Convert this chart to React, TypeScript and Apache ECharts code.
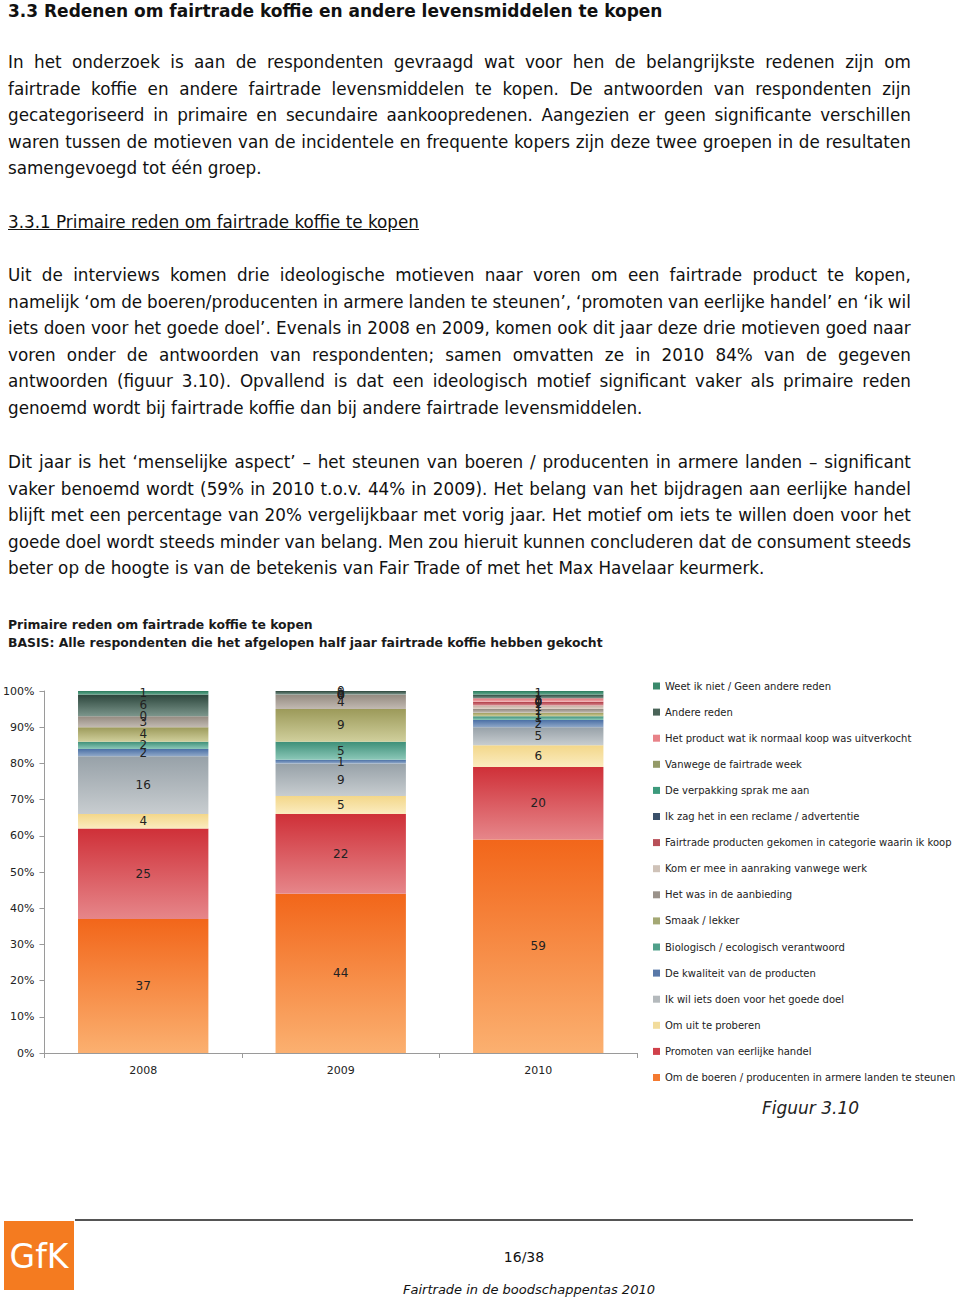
import React, { useEffect, useRef } from "react";
import * as echarts from "echarts";

const FONT = '"DejaVu Sans", Verdana, sans-serif';

const years = ["2008", "2009", "2010"];

// bottom → top of the stack
const seriesNames = [
  "Om de boeren / producenten in armere landen te steunen",
  "Promoten van eerlijke handel",
  "Om uit te proberen",
  "Ik wil iets doen voor het goede doel",
  "De kwaliteit van de producten",
  "Biologisch / ecologisch verantwoord",
  "Smaak / lekker",
  "Het was in de aanbieding",
  "Kom er mee in aanraking vanwege werk",
  "Fairtrade producten gekomen in categorie waarin ik koop",
  "Ik zag het in een reclame / advertentie",
  "De verpakking sprak me aan",
  "Vanwege de fairtrade week",
  "Het product wat ik normaal koop was uitverkocht",
  "Andere reden",
  "Weet ik niet / Geen andere reden",
];

const boeren = [37, 44, 59];
const promoten = [25, 22, 20];
const proberen = [4, 5, 6];
const goedeDoel = [16, 9, 5];
const kwaliteit = [2, 1, 2];
const biologisch = [2, 5, 1];
const smaak = [4, 9, 1];
const aanbieding = [3, 4, 1];
const komErMee = [0, 0, 1];
const categorie = [null, 0, 1];
const reclame = [null, 0, 0];
const verpakking = [null, 0, 0];
const fairtradeWeek = [null, 0, 0];
const uitverkocht = [null, 0, 1];
const andere = [6, 1, 1];
const weetNiet = [1, 0, 1];

const seriesValues = [
  boeren, promoten, proberen, goedeDoel, kwaliteit, biologisch, smaak, aanbieding,
  komErMee, categorie, reclame, verpakking, fairtradeWeek, uitverkocht, andere, weetNiet,
];

const topColors = [
  "#f2661a", "#cf3038", "#f3d78a", "#97a1a8", "#4a6fa5", "#3d8f78", "#9c9a5a", "#948a80",
  "#c4aea0", "#b03a44", "#2c4660", "#36906e", "#84884e", "#dc6e74", "#2c463c", "#2a7a5c",
];
const bottomColors = [
  "#fbb070", "#e6868a", "#fbecc0", "#c8cdd0", "#8fa8c8", "#8cc8b8", "#d0cf9c", "#c2bab2",
  "#e4d6cc", "#d88a90", "#6f8499", "#80c4a8", "#b8ba8a", "#f2b0b2", "#7c968c", "#62aa8e",
];
const legendColors = [
  "#f47a30", "#d0404a", "#f2dc9c", "#b4b9bc", "#5878a8", "#50a08a", "#a4a874", "#9a928a",
  "#cfc2b8", "#b85058", "#3a506a", "#3c9a7c", "#949a68", "#e88288", "#4a6458", "#3a8a6c",
];

const heading = "3.3 Redenen om fairtrade koffie en andere levensmiddelen te kopen";
const para1 = [
  "In het onderzoek is aan de respondenten gevraagd wat voor hen de belangrijkste redenen zijn om",
  "fairtrade koffie en andere fairtrade levensmiddelen te kopen. De antwoorden van respondenten zijn",
  "gecategoriseerd in primaire en secundaire aankoopredenen. Aangezien er geen significante verschillen",
  "waren tussen de motieven van de incidentele en frequente kopers zijn deze twee groepen in de resultaten",
  "samengevoegd tot één groep.",
];
const subheading = "3.3.1 Primaire reden om fairtrade koffie te kopen";
const para2 = [
  "Uit de interviews komen drie ideologische motieven naar voren om een fairtrade product te kopen,",
  "namelijk ‘om de boeren/producenten in armere landen te steunen’, ‘promoten van eerlijke handel’ en ‘ik wil",
  "iets doen voor het goede doel’. Evenals in 2008 en 2009, komen ook dit jaar deze drie motieven goed naar",
  "voren onder de antwoorden van respondenten; samen omvatten ze in 2010 84% van de gegeven",
  "antwoorden (figuur 3.10). Opvallend is dat een ideologisch motief significant vaker als primaire reden",
  "genoemd wordt bij fairtrade koffie dan bij andere fairtrade levensmiddelen.",
];
const para3 = [
  "Dit jaar is het ‘menselijke aspect’ – het steunen van boeren / producenten in armere landen – significant",
  "vaker benoemd wordt (59% in 2010 t.o.v. 44% in 2009). Het belang van het bijdragen aan eerlijke handel",
  "blijft met een percentage van 20% vergelijkbaar met vorig jaar. Het motief om iets te willen doen voor het",
  "goede doel wordt steeds minder van belang. Men zou hieruit kunnen concluderen dat de consument steeds",
  "beter op de hoogte is van de betekenis van Fair Trade of met het Max Havelaar keurmerk.",
];

const chartTitle = "Primaire reden om fairtrade koffie te kopen";
const chartSubtitle = "BASIS: Alle respondenten die het afgelopen half jaar fairtrade koffie hebben gekocht";
const figureLabel = "Figuur 3.10";
const pageNumber = "16/38";
const footerText = "Fairtrade in de boodschappentas 2010";

function Paragraph({ lines, top }: { lines: string[]; top: number }) {
  return (
    <>
      {lines.map((line, i) => {
        const last = i === lines.length - 1;
        const style: React.CSSProperties = {
          position: "absolute",
          left: 8,
          top: top + i * 26.5,
          width: 903,
          height: 26,
          lineHeight: "26px",
          fontSize: 16.8,
          whiteSpace: "nowrap",
        };
        if (last) return <div key={i} style={style}>{line}</div>;
        return (
          <div key={i} style={{ ...style, display: "flex", justifyContent: "space-between" }}>
            {line.split(" ").map((w, j) => (
              <span key={j}>{w}</span>
            ))}
          </div>
        );
      })}
    </>
  );
}

export default function App() {
  const ref = useRef<HTMLDivElement>(null);

  useEffect(() => {
    document.body.style.margin = "0";
    if (!ref.current) return;
    const chart = echarts.init(ref.current, null, { renderer: "svg" });
    const legendData = seriesNames
      .map((name, i) => ({ name, itemStyle: { color: legendColors[i] } }))
      .reverse();

    chart.setOption({
      animation: false,
      backgroundColor: "transparent",
      textStyle: { fontFamily: FONT },
      grid: { left: 43, right: 323, top: 691, bottom: 246, containLabel: false },
      legend: {
        orient: "vertical",
        left: 648,
        top: 676,
        itemWidth: 7,
        itemHeight: 7,
        itemGap: 16.1,
        icon: "rect",
        data: legendData,
        textStyle: { fontSize: 10, color: "#222", fontFamily: FONT },
      },
      xAxis: {
        type: "category",
        data: years,
        axisLine: { lineStyle: { color: "#9a9a9a" } },
        axisTick: { show: true, length: 5, lineStyle: { color: "#9a9a9a" } },
        axisLabel: { fontSize: 11, color: "#222", margin: 12, fontFamily: FONT },
      },
      yAxis: {
        type: "value",
        min: 0,
        max: 100,
        interval: 10,
        axisLine: { show: true, lineStyle: { color: "#9a9a9a" } },
        axisTick: { show: true, length: 5, lineStyle: { color: "#9a9a9a" } },
        splitLine: { show: false },
        axisLabel: { formatter: "{value}%", fontSize: 11, color: "#222", margin: 10, fontFamily: FONT },
      },
      series: seriesNames.map((name, i) => ({
        name,
        type: "bar",
        stack: "total",
        barWidth: "66%",
        data: seriesValues[i],
        itemStyle: {
          color: new echarts.graphic.LinearGradient(0, 0, 0, 1, [
            { offset: 0, color: topColors[i] },
            { offset: 1, color: bottomColors[i] },
          ]),
        },
        label: {
          show: true,
          position: "inside",
          color: "#222",
          fontSize: 12,
          fontFamily: FONT,
          formatter: (p: any) => (p.value == null ? "" : String(p.value)),
        },
      })),
      graphic: [
        {
          type: "text",
          left: 8,
          top: 618,
          style: { text: chartTitle, fontSize: 12.4, fontWeight: "bold", fill: "#1a1a1a", fontFamily: FONT },
        },
        {
          type: "text",
          left: 8,
          top: 636,
          style: { text: chartSubtitle, fontSize: 12.4, fontWeight: "bold", fill: "#1a1a1a", fontFamily: FONT },
        },
        {
          type: "text",
          left: 762,
          top: 1099,
          style: { text: figureLabel, fontSize: 17, fontStyle: "italic", fill: "#222", fontFamily: FONT },
        },
        {
          type: "line",
          shape: { x1: 75, y1: 1220, x2: 913, y2: 1220 },
          style: { stroke: "#555", lineWidth: 2 },
        },
        {
          type: "rect",
          shape: { x: 4, y: 1221, width: 70, height: 69 },
          style: { fill: "#f47b20" },
        },
        {
          type: "text",
          x: 39,
          y: 1256,
          style: {
            text: "GfK",
            fontSize: 33,
            fill: "#fff",
            align: "center",
            verticalAlign: "middle",
            fontFamily: FONT,
          },
        },
        {
          type: "text",
          x: 524,
          y: 1257,
          style: { text: pageNumber, fontSize: 14, fill: "#111", align: "center", verticalAlign: "middle", fontFamily: FONT },
        },
        {
          type: "text",
          x: 529,
          y: 1289,
          style: {
            text: footerText,
            fontSize: 13,
            fontStyle: "italic",
            fill: "#111",
            align: "center",
            verticalAlign: "middle",
            fontFamily: FONT,
          },
        },
      ],
    });
    return () => chart.dispose();
  }, []);

  return (
    <div
      style={{
        position: "absolute",
        left: 0,
        top: 0,
        width: 960,
        height: 1299,
        background: "#fff",
        fontFamily: FONT,
        color: "#111",
        overflow: "hidden",
      }}
    >
      <div ref={ref} style={{ position: "absolute", left: 0, top: 0, width: 960, height: 1299 }} />
      <div
        style={{
          position: "absolute",
          left: 8,
          top: 0,
          height: 22,
          lineHeight: "22px",
          fontSize: 17,
          fontWeight: "bold",
          whiteSpace: "nowrap",
        }}
      >
        {heading}
      </div>
      <Paragraph lines={para1} top={49} />
      <div
        style={{
          position: "absolute",
          left: 8,
          top: 209,
          height: 26,
          lineHeight: "26px",
          fontSize: 16.8,
          textDecoration: "underline",
          whiteSpace: "nowrap",
        }}
      >
        {subheading}
      </div>
      <Paragraph lines={para2} top={262} />
      <Paragraph lines={para3} top={449} />
    </div>
  );
}
